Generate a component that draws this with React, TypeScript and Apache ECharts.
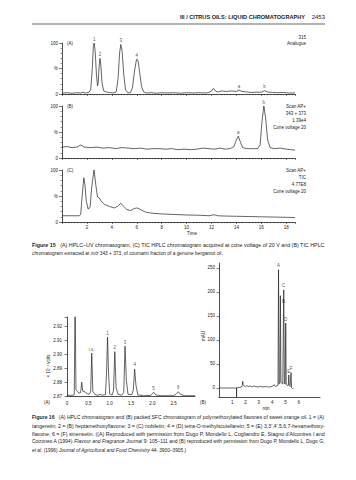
import React, { useEffect, useRef } from "react";
import * as echarts from "echarts";

const FONT = '"Liberation Sans", Arial, Helvetica, sans-serif';
const INK = "#222222";

// ---------- Figure 15 : time (min) vs relative abundance (%) ----------
const uvTrace: [number, number][] = [
  [0, 1.5], [0.4, 2.5], [0.8, 1.5], [1.2, 2.5], [1.5, 2], [1.7, 3.5], [1.9, 2], [2.15, 3],
  [2.3, 8], [2.42, 45], [2.52, 95], [2.58, 100], [2.66, 85], [2.76, 40], [2.85, 16], [2.9, 20],
  [2.98, 55], [3.05, 70], [3.12, 55], [3.22, 20], [3.35, 6], [3.55, 4], [3.8, 3], [4.1, 2],
  [4.35, 4], [4.5, 30], [4.62, 80], [4.72, 97], [4.82, 85], [4.95, 40], [5.1, 8], [5.3, 2],
  [5.5, 3], [5.65, 12], [5.82, 45], [5.98, 68], [6.1, 66], [6.22, 45], [6.38, 15], [6.55, 4],
  [6.8, 2], [7.2, 2.5], [7.6, 1.5], [8.0, 2.5], [8.5, 2], [9.0, 2.5], [9.5, 1.5], [10.0, 2.5],
  [10.5, 2], [11.0, 2.5], [11.5, 2], [11.8, 3], [12.0, 6], [12.15, 11], [12.35, 5], [12.55, 4],
  [12.8, 6], [13.2, 5], [13.6, 6], [14.0, 5], [14.2, 7.5], [14.45, 5], [14.8, 4], [15.2, 3],
  [15.6, 3.5], [16.0, 3.5], [16.25, 6.5], [16.5, 4], [16.9, 3], [17.3, 2.5], [17.8, 3], [18.2, 2],
  [18.7, 2],
];
const uvPeakLabels: [string, number, number][] = [
  ["1", 2.58, 100], ["2", 3.05, 70], ["3", 4.72, 97], ["4", 6.0, 68], ["a", 14.2, 7.5], ["b", 16.25, 6.5],
];

const massTrace: [number, number][] = [
  [0, 21], [0.4, 22], [0.8, 20], [1.2, 21], [1.5, 25], [1.8, 21], [2.3, 20], [2.8, 21], [3.3, 19],
  [3.8, 20], [4.3, 18], [4.8, 20], [5.3, 19], [5.8, 18], [6.3, 19], [6.8, 17], [7.3, 18], [7.8, 18],
  [8.3, 17], [8.8, 18], [9.3, 16], [9.8, 17], [10.3, 16], [10.8, 17], [11.3, 19], [11.8, 18],
  [12.2, 17], [12.7, 19], [13.1, 17], [13.5, 18], [13.8, 22], [14.0, 35], [14.15, 42], [14.3, 32],
  [14.5, 20], [14.8, 18], [15.3, 18], [15.7, 18], [15.9, 25], [16.05, 70], [16.2, 100], [16.35, 75],
  [16.5, 35], [16.7, 20], [17.0, 18], [17.5, 19], [18.0, 17], [18.4, 16], [18.7, 15],
];
const massPeakLabels: [string, number, number][] = [["a", 14.15, 42], ["b", 16.2, 100]];

const ticTrace: [number, number][] = [
  [0, 12], [1.4, 12], [1.5, 15], [1.6, 45], [1.75, 85], [1.85, 70], [1.95, 40], [2.1, 25], [2.25, 28],
  [2.4, 70], [2.57, 100], [2.72, 70], [2.85, 48], [3.0, 46], [3.15, 40], [3.4, 34], [3.8, 30],
  [4.2, 27], [4.45, 30], [4.72, 36], [4.95, 30], [5.2, 24], [5.5, 22], [5.8, 26], [6.05, 27],
  [6.3, 24], [6.7, 19], [7.2, 17], [8.0, 15.5], [9.0, 14.5], [10.0, 13.5], [11.0, 13], [11.8, 12],
  [12.2, 14], [12.5, 12], [13.0, 11.5], [14.0, 11], [15.0, 10.5], [16.0, 10], [17.0, 9.5],
  [18.0, 9], [18.7, 8.5],
];
const timeTicks = [2, 4, 6, 8, 10, 12, 14, 16, 18];

// ---------- Figure 16 (A) : min vs ×10^-1 volts ----------
const hplcTrace: [number, number][] = [
  [0, 2.8705], [0.14, 2.8705], [0.17, 2.871], [0.19, 2.94], [0.21, 2.8745], [0.24, 2.8735],
  [0.28, 2.872], [0.32, 2.8725], [0.345, 2.88], [0.37, 2.8735], [0.42, 2.873], [0.47, 2.8718],
  [0.52, 2.8712], [0.555, 2.873], [0.58, 2.901], [0.605, 2.8735], [0.65, 2.8712], [0.72, 2.8705],
  [0.78, 2.8712], [0.83, 2.8706], [0.9, 2.871], [0.925, 2.885], [0.95, 2.9125], [0.975, 2.886],
  [1.0, 2.8715], [1.06, 2.8708], [1.09, 2.874], [1.12, 2.902], [1.15, 2.876], [1.2, 2.8712],
  [1.28, 2.8706], [1.33, 2.8725], [1.36, 2.906], [1.39, 2.882], [1.43, 2.8712], [1.52, 2.871],
  [1.555, 2.8745], [1.585, 2.8895], [1.615, 2.878], [1.66, 2.8708], [1.8, 2.8702], [1.95, 2.8704],
  [2.0, 2.8715], [2.03, 2.8727], [2.07, 2.8712], [2.15, 2.8702], [2.5, 2.8702], [2.56, 2.8715],
  [2.61, 2.873], [2.66, 2.8712], [2.75, 2.8702], [3.0, 2.8702],
];
const hplcPeakLabels: [string, number, number][] = [
  ["i.s.", 0.58, 2.901], ["1", 0.95, 2.9125], ["2", 1.12, 2.902], ["3", 1.36, 2.906],
  ["4", 1.585, 2.8895], ["5", 2.03, 2.8727], ["6", 2.61, 2.873],
];
const hplcYTicks = [2.87, 2.88, 2.89, 2.9, 2.91, 2.92];
const hplcXTicks = [0, 0.5, 1, 1.5, 2, 2.5];

// ---------- Figure 16 (B) : min vs mAU ----------
const sfcTrace: [number, number][] = [
  [0, 0], [1.32, 0], [1.32, -18.75], [1.33, 0.5], [1.5, 1], [1.7, 2], [1.75, 5], [1.78, 14], [1.82, 7],
  [1.9, 4], [2.0, 2.5], [2.1, 5], [2.2, 3], [2.35, 4], [2.5, 2], [2.6, 4], [2.8, 3], [2.95, 2],
  [3.1, 3.5], [3.3, 2], [3.5, 3], [3.7, 2], [3.9, 2.5], [4.05, 4], [4.15, 7], [4.25, 3], [4.35, 4],
  [4.44, 6], [4.48, 246], [4.52, 8], [4.58, 10], [4.62, 192], [4.66, 12], [4.75, 10], [4.8, 8],
  [4.87, 204], [4.92, 10], [4.98, 8], [5.02, 135], [5.06, 8], [5.15, 5], [5.22, 6], [5.25, 27],
  [5.28, 5], [5.35, 3], [5.42, 32], [5.46, 1], [5.52, -1], [5.6, -1],
];
const sfcPeakLabels: [string, number, number, string][] = [
  ["A", 4.48, 246, "top"], ["B", 4.62, 180, "right"], ["C", 4.87, 204, "top"],
  ["D", 5.02, 135, "top"], ["E", 5.25, 27, "top"], ["F", 5.42, 32, "top"],
];
const sfcYTicks = [0, 50, 100, 150, 200, 250];
const sfcXTicks = [1, 2, 3, 4, 5, 6];

// ---------- captions ----------
const CAP = 4.8;
const CAP_WIDTH = 293;
const fig15Caption = [
  "{b|Figure 15}   (A) HPLC–UV chromatogram, (C) TIC HPLC chromatogram acquired at cone voltage of 20 V and (B) TIC HPLC",
  "chromatogram extracted at {i|m/z} 343 + 373, of coumarin fraction of a genuine bergamot oil.",
];
const fig16Caption = [
  "{b|Figure 16}   (A) HPLC chromatogram and (B) packed SFC chromatogram of polymethoxylated flavones of sweet orange oil. 1 = (A)",
  "tangeretin; 2 = (B) heptamethoxyflavone; 3 = (C) nobiletin; 4 = (D) tetra-{i|O}-methylscutellarein; 5 = (E) 3,3′,4′,5,6,7-hexamethoxy-",
  "flavone; 6 = (F) sinensetin. ((A) Reproduced with permission from Dugo P, Mondello L, Cogliandro E, Stagno d'Alcontres I and",
  "Cotroneo A (1994) {i|Flavour and Fragrance Journal} 9: 105–111 and (B) reproduced with permission from Dugo P, Mondello L, Dugo G,",
  "{i|et al.} (1996) {i|Journal of Agricultural and Food Chemistry} 44: 3900–3905.)",
];

// ---------- helpers ----------
const lbl = (size = 4.5) => ({ fontSize: size, fontFamily: FONT, color: INK });

// width of a rich caption line (px) measured with canvas
function measureRich(line: string, size: number): number {
  const c = document.createElement("canvas").getContext("2d");
  if (!c) return CAP_WIDTH;
  const big = size * 10;
  let w = 0;
  const re = /\{(b|i)\|([^}]*)\}|([^{]+)/g;
  let m: RegExpExecArray | null;
  while ((m = re.exec(line))) {
    if (m[1]) {
      c.font = `${m[1] === "b" ? "bold " : "italic "}${big}px ${FONT}`;
      w += c.measureText(m[2]).width;
    } else {
      c.font = `${big}px ${FONT}`;
      w += c.measureText(m[3]).width;
    }
  }
  return w / 10;
}

const txt = (text: string, x: number, y: number, o: any = {}) => ({
  type: "text",
  x,
  y,
  rotation: o.rotation || 0,
  scaleX: o.scaleX || 1,
  silent: true,
  style: {
    text,
    fill: INK,
    fontSize: o.size || 4.5,
    fontFamily: FONT,
    fontWeight: o.weight || "normal",
    fontStyle: o.italic ? "italic" : "normal",
    align: o.align || "left",
    textAlign: o.align || "left",
    verticalAlign: "middle",
    textVerticalAlign: "middle",
    rich: o.rich,
  },
});

const rich = {
  b: { fontWeight: "bold", fontSize: CAP, fontFamily: FONT, fill: INK, color: INK },
  i: { fontStyle: "italic", fontSize: CAP, fontFamily: FONT, fill: INK, color: INK },
};

const captionLines = (lines: string[], top: number, step: number) =>
  lines.map((line, k) => {
    const last = k === lines.length - 1;
    let sx = 1;
    const w = measureRich(line, CAP);
    if (!last) {
      if (w > 0) sx = Math.min(1.3, Math.max(0.8, CAP_WIDTH / w));
    } else if (w > CAP_WIDTH) {
      sx = CAP_WIDTH / w;
    }
    return txt(line, 32, top + k * step, { size: CAP, rich, scaleX: sx });
  });

const lineSeries = (idx: number, data: [number, number][]) => ({
  type: "line",
  xAxisIndex: idx,
  yAxisIndex: idx,
  data,
  showSymbol: false,
  symbol: "none",
  silent: true,
  clip: true,
  lineStyle: { color: INK, width: 0.7 },
});

const labelSeries = (idx: number, items: any[]) => ({
  type: "scatter",
  xAxisIndex: idx,
  yAxisIndex: idx,
  symbolSize: 0,
  silent: true,
  itemStyle: { color: "transparent" },
  label: { show: true, formatter: "{b}", distance: 1.5, ...lbl(4.5) },
  data: items.map((it) => ({
    name: it[0],
    value: [it[1], it[2]],
    label: { position: it[3] || "top" },
  })),
});

const axisLineStyle = { lineStyle: { color: INK, width: 0.8 } };

const topX = (gridIndex: number, showLabels: boolean) => ({
  type: "value",
  gridIndex,
  position: "bottom",
  min: 0,
  max: 18.7,
  interval: 2,
  axisLine: { show: true, onZero: false, ...axisLineStyle },
  axisTick: { show: true, length: 2, lineStyle: { color: INK, width: 0.6 } },
  minorTick: { show: true, splitNumber: 8, length: 1.2, lineStyle: { color: INK, width: 0.5 } },
  splitLine: { show: false },
  minorSplitLine: { show: false },
  axisLabel: {
    show: showLabels,
    margin: 3,
    ...lbl(4.5),
    formatter: (v: number) => (timeTicks.includes(v) ? String(v) : ""),
  },
});

const topY = (gridIndex: number) => ({
  type: "value",
  gridIndex,
  position: "left",
  min: 0,
  max: 100,
  interval: 50,
  axisLine: { show: true, onZero: false, ...axisLineStyle },
  axisTick: { show: true, length: 3, lineStyle: { color: INK, width: 0.6 } },
  minorTick: { show: true, splitNumber: 5, length: 1.5, lineStyle: { color: INK, width: 0.5 } },
  splitLine: { show: false },
  minorSplitLine: { show: false },
  axisLabel: { margin: 4, ...lbl(4.5), formatter: (v: number) => (v === 50 ? "%" : String(v)) },
});

export default function App() {
  const ref = useRef<HTMLDivElement>(null);

  useEffect(() => {
    if (!ref.current) return;
    const chart = echarts.init(ref.current, null, { renderer: "svg" });

    const option: any = {
      animation: false,
      backgroundColor: "#ffffff",
      grid: [
        { left: 62, top: 43, width: 233, height: 51, show: false },
        { left: 62, top: 106, width: 233, height: 52, show: false },
        { left: 62, top: 170, width: 233, height: 52, show: false },
        { left: 67, top: 317, width: 128, height: 79, show: false },
        { left: 219, top: 263, width: 101, height: 134, show: false },
      ],
      xAxis: [
        topX(0, false),
        topX(1, false),
        topX(2, true),
        {
          type: "value",
          gridIndex: 3,
          position: "bottom",
          min: 0,
          max: 3,
          interval: 0.5,
          axisLine: { show: true, onZero: false, ...axisLineStyle },
          axisTick: { show: false },
          splitLine: { show: false },
          axisLabel: {
            margin: 5,
            ...lbl(4.5),
            formatter: (v: number) =>
              hplcXTicks.includes(v) ? (v === 0 ? "0" : v.toFixed(1)) : "",
          },
        },
        {
          type: "value",
          gridIndex: 4,
          position: "bottom",
          min: 0,
          max: 7.6,
          interval: 1,
          axisLine: { show: true, onZero: false, ...axisLineStyle },
          axisTick: { show: false },
          splitLine: { show: false },
          axisLabel: {
            margin: 3,
            ...lbl(4.5),
            formatter: (v: number) => (sfcXTicks.includes(v) ? String(v) : ""),
          },
        },
      ],
      yAxis: [
        topY(0),
        topY(1),
        topY(2),
        {
          type: "value",
          gridIndex: 3,
          position: "left",
          min: 2.87,
          max: 2.927,
          interval: 0.01,
          axisLine: { show: true, onZero: false, ...axisLineStyle },
          axisTick: { show: true, length: 2.5, lineStyle: { color: INK, width: 0.6 } },
          splitLine: { show: false },
          axisLabel: {
            margin: 5,
            ...lbl(4.5),
            formatter: (v: number) => {
              const r = Math.round(v * 100) / 100;
              return hplcYTicks.some((t) => Math.abs(t - v) < 1e-6) ? r.toFixed(2) : "";
            },
          },
        },
        {
          type: "value",
          gridIndex: 4,
          position: "left",
          min: -18.75,
          max: 260,
          axisLine: { show: true, onZero: false, ...axisLineStyle },
          axisTick: { show: true, length: 2.5, customValues: sfcYTicks, lineStyle: { color: INK, width: 0.6 } },
          splitLine: { show: false },
          axisLabel: {
            margin: 4,
            customValues: sfcYTicks,
            ...lbl(4.5),
            formatter: (v: number) => (sfcYTicks.includes(v) ? String(v) : ""),
          },
        },
      ],
      series: [
        lineSeries(0, uvTrace),
        labelSeries(0, uvPeakLabels),
        lineSeries(1, massTrace),
        labelSeries(1, massPeakLabels),
        lineSeries(2, ticTrace),
        lineSeries(3, hplcTrace),
        labelSeries(3, hplcPeakLabels),
        lineSeries(4, sfcTrace),
        labelSeries(4, sfcPeakLabels),
      ],
      graphic: [
        // running head
        txt("III / CITRUS OILS: LIQUID CHROMATOGRAPHY", 305, 17, { align: "right", size: 5.6, weight: "bold" }),
        txt("2453", 325, 17, { align: "right", size: 6 }),
        { type: "line", silent: true, shape: { x1: 32, y1: 24, x2: 325, y2: 24 }, style: { stroke: "#666", lineWidth: 1 } },
        // panel annotations (Figure 15)
        txt("(A)", 67, 43),
        txt("315", 306, 37, { align: "right" }),
        txt("Analogue", 306, 43, { align: "right" }),
        txt("(B)", 67, 106),
        txt("Scan AP+", 306, 106, { align: "right" }),
        txt("343 + 373", 306, 113, { align: "right" }),
        txt("1.39e4", 306, 120, { align: "right" }),
        txt("Cone voltage 20", 306, 127, { align: "right" }),
        txt("(C)", 67, 170),
        txt("Scan AP+", 306, 170, { align: "right" }),
        txt("TIC", 306, 177, { align: "right" }),
        txt("4.77E8", 306, 184, { align: "right" }),
        txt("Cone voltage 20", 306, 191, { align: "right" }),
        txt("Time", 192, 233, { align: "center" }),
        // caption Figure 15
        ...captionLines(fig15Caption, 245, 8),
        // Figure 16 axis names and panel letters
        txt("× 10⁻¹ volts", 48, 366, { align: "center", rotation: Math.PI / 2 }),
        txt("(A)", 47, 402, { align: "center" }),
        txt("(B)", 203, 402, { align: "center" }),
        txt("mAU", 203, 336, { align: "center", rotation: Math.PI / 2 }),
        txt("min", 266, 408, { align: "center" }),
        // caption Figure 16
        ...captionLines(fig16Caption, 418, 8),
      ],
    };

    chart.setOption(option);
    return () => chart.dispose();
  }, []);

  return (
    <div
      ref={ref}
      style={{ position: "absolute", left: 0, top: 0, width: 356, height: 480, background: "#fff" }}
    />
  );
}
